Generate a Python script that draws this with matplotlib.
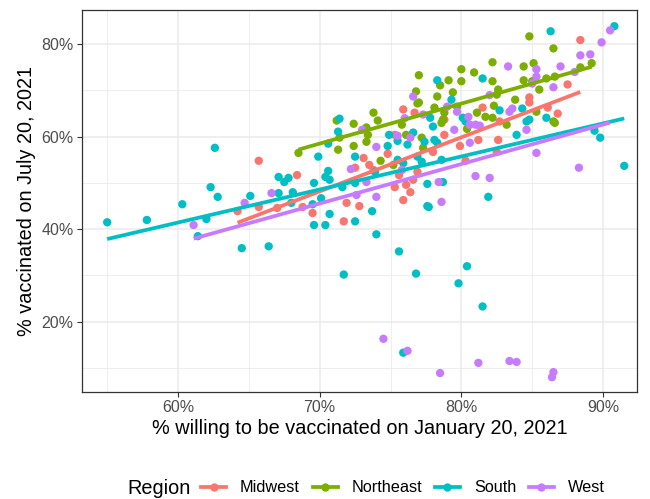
import numpy as np
import matplotlib
matplotlib.use("Agg")
import matplotlib.pyplot as plt
from matplotlib.lines import Line2D
from matplotlib.ticker import FuncFormatter, MultipleLocator

plt.rcParams['font.family'] = ['Liberation Sans', 'DejaVu Sans']

regions = ["Midwest", "Northeast", "South", "West"]
colors = ["#F8766D", "#7CAE00", "#00BFC4", "#C77CFF"]

midwest_x = [65.7, 64.2, 65.7, 68.4, 67.0, 68.8, 69.5, 71.9, 71.7, 72.8, 72.5, 73.1, 73.5, 73.8,
             74.8, 75.3, 75.9, 76.7, 75.6, 75.3, 76.1, 76.4, 75.9, 76.9, 76.6, 78.0, 78.8, 88.4,
             87.5, 84.8, 84.8, 81.5, 86.1, 86.8, 82.7, 78.8, 81.2, 82.6, 79.9, 82.5, 80.3]
midwest_y = [54.8, 43.9, 44.8, 51.7, 44.6, 44.8, 43.5, 45.7, 41.7, 45.0, 53.3, 55.4, 53.9, 52.8,
             56.3, 60.4, 65.9, 65.2, 51.7, 49.1, 49.6, 48.0, 46.3, 52.4, 50.7, 56.7, 60.4, 80.9,
             71.3, 68.5, 67.4, 66.3, 66.3, 65.0, 63.3, 63.7, 59.3, 59.3, 58.0, 56.7, 54.8]

northeast_x = [68.5, 71.2, 71.4, 71.3, 72.4, 72.4, 73.3, 73.4, 73.3, 73.8, 74.1, 74.3, 75.2, 76.1,
               75.8, 76.9, 77.2, 77.3, 78.6, 78.8, 84.8, 86.5, 80.0, 80.9, 82.2, 80.0, 79.1, 78.5,
               84.4, 85.1, 84.4, 85.0, 86.0, 86.6, 85.5, 88.4, 89.2, 82.2, 82.6, 82.5, 82.3, 83.8,
               79.4, 78.3, 78.1, 79.7, 81.1, 81.7, 82.2, 78.7, 80.4, 83.2, 86.6, 85.3, 86.5, 77.0,
               76.8, 77.0]
northeast_y = [56.5, 63.5, 59.8, 57.2, 62.8, 58.0, 62.0, 60.4, 58.9, 65.2, 63.5, 54.8, 53.9, 60.4,
               62.6, 67.2, 59.8, 57.6, 63.0, 65.2, 81.7, 79.1, 74.6, 73.9, 76.1, 72.0, 72.2, 71.1,
               75.2, 75.9, 72.2, 72.0, 72.6, 73.0, 70.2, 75.0, 75.9, 72.0, 70.2, 69.1, 66.7, 68.0,
               69.6, 68.7, 66.3, 66.5, 65.2, 64.3, 64.1, 63.7, 61.7, 62.6, 63.0, 65.4, 63.3, 73.3,
               69.8, 67.4]

south_x = [55.0, 57.8, 60.3, 62.6, 62.3, 62.8, 62.0, 61.4, 64.5, 66.4, 65.1, 67.1, 67.1, 67.5,
           67.8, 68.1, 68.0, 69.6, 69.5, 70.1, 70.4, 70.6, 70.7, 71.6, 72.5, 70.7, 69.6, 70.4,
           72.5, 73.7, 74.0, 71.4, 71.3, 70.6, 69.9, 72.5, 74.8, 74.9, 75.5, 76.6, 76.2, 76.9,
           77.2, 77.4, 77.8, 78.0, 78.3, 77.6, 77.6, 77.7, 78.6, 78.7, 75.6, 71.7, 76.8, 80.4,
           79.8, 81.5, 75.9, 86.3, 90.8, 78.3, 81.5, 79.3, 82.7, 84.3, 84.8, 84.6, 83.9, 89.4,
           89.8, 80.1, 80.3, 78.1, 91.5, 73.9, 75.5, 75.9, 81.9, 86.0]
south_y = [41.5, 42.0, 45.4, 57.6, 49.1, 47.0, 42.2, 38.5, 35.9, 36.3, 47.2, 51.3, 47.8, 50.2,
           51.1, 48.0, 45.7, 50.0, 45.4, 46.7, 51.3, 52.6, 50.7, 49.1, 50.0, 43.3, 40.9, 40.9,
           41.7, 43.9, 38.9, 63.9, 61.1, 58.5, 55.7, 55.7, 58.0, 60.4, 59.1, 60.9, 58.3, 55.7,
           54.6, 58.9, 64.1, 62.2, 58.7, 49.8, 45.0, 44.8, 55.0, 50.2, 35.2, 30.2, 30.4, 32.0,
           28.3, 23.3, 13.3, 82.8, 83.9, 72.2, 72.6, 68.0, 65.7, 66.1, 63.7, 63.3, 60.4, 61.3,
           59.8, 64.1, 63.3, 59.3, 53.7, 52.4, 55.0, 54.3, 47.0, 64.1]

west_x = [61.1, 64.7, 66.6, 72.2, 73.3, 74.0, 74.0, 72.6, 75.8, 76.4, 77.3, 78.4, 78.6, 90.5,
          89.9, 88.4, 89.1, 83.3, 87.0, 85.3, 85.3, 86.5, 83.6, 83.4, 84.6, 79.5, 80.6, 81.0,
          81.3, 80.5, 79.7, 80.6, 85.3, 88.3, 81.0, 82.0, 74.5, 76.2, 78.5, 81.2, 83.4, 83.9,
          86.5, 86.4, 76.6, 75.5, 73.0, 76.0, 79.0, 82.0, 85.0, 88.0]
west_y = [40.9, 45.7, 47.8, 53.0, 50.2, 57.8, 47.0, 47.4, 52.8, 59.8, 64.8, 50.2, 45.9, 83.0,
          80.4, 77.6, 77.8, 75.2, 75.2, 74.6, 73.0, 70.7, 66.1, 65.4, 61.5, 61.5, 62.6, 62.6,
          62.4, 64.3, 65.4, 58.7, 56.5, 53.3, 51.5, 51.1, 16.3, 13.7, 8.9, 11.1, 11.5, 11.3,
          9.1, 8.0, 68.7, 60.2, 61.5, 64.0, 66.5, 69.0, 71.5, 74.0]

series_x = [midwest_x, northeast_x, south_x, west_x]
series_y = [midwest_y, northeast_y, south_y, west_y]

x_ticks = [60, 70, 80, 90]
y_ticks = [20, 40, 60, 80]

fig = plt.figure(figsize=(6.5, 4.99), dpi=100)
ax = fig.add_axes([81.7 / 650, 1 - 392 / 499, (637 - 81.7) / 650, (392 - 10) / 499])

for xs, ys, c in zip(series_x, series_y, colors):
    ax.scatter(xs, ys, s=36, color=c, edgecolors='none', zorder=3)
for xs, ys, c in zip(series_x, series_y, colors):
    xs_a = np.array(xs); ys_a = np.array(ys)
    b, a = np.polyfit(xs_a, ys_a, 1)
    xl = np.array([xs_a.min(), xs_a.max()])
    ax.plot(xl, a + b * xl, color=c, lw=2.7, zorder=4, solid_capstyle='butt')

ax.set_xlim(53.2, 92.4)
ax.set_ylim(4.8, 87.4)
ax.set_xticks(x_ticks)
ax.set_yticks(y_ticks)
ax.xaxis.set_minor_locator(MultipleLocator(5))
ax.yaxis.set_minor_locator(MultipleLocator(10))
fmt = FuncFormatter(lambda v, p: f"{v:.0f}%")
ax.xaxis.set_major_formatter(fmt)
ax.yaxis.set_major_formatter(fmt)
ax.grid(which='major', color='#EBEBEB', lw=1.1, zorder=0)
ax.grid(which='minor', color='#EBEBEB', lw=0.6, zorder=0)
ax.set_axisbelow(True)
ax.tick_params(which='minor', length=0)
ax.tick_params(which='major', length=3.3, width=0.8, color='#333333',
               labelcolor='#4D4D4D', labelsize=11.5, pad=2.5)
for sp in ax.spines.values():
    sp.set_color('#333333')
    sp.set_linewidth(0.9)

ax.set_xlabel("% willing to be vaccinated on January 20, 2021", fontsize=14.3, color='black', labelpad=3)
ax.set_ylabel("% vaccinated on July 20, 2021", fontsize=14.3, color='black', labelpad=4)

handles = [Line2D([0], [0], color=c, lw=2.7, marker='o', markersize=6, markeredgewidth=0)
           for c in colors]
fig.text(127 / 650, 1 - 488 / 499, "Region", fontsize=14.3, ha='left', va='center')
fig.legend(handles, regions, loc='center left', bbox_to_anchor=(201 / 650, 1 - 488 / 499),
           ncol=4, frameon=False, fontsize=11.7, handlelength=1.55, handletextpad=0.85,
           columnspacing=0.78, borderaxespad=0, borderpad=0)

fig.savefig("out.png", dpi=100)
